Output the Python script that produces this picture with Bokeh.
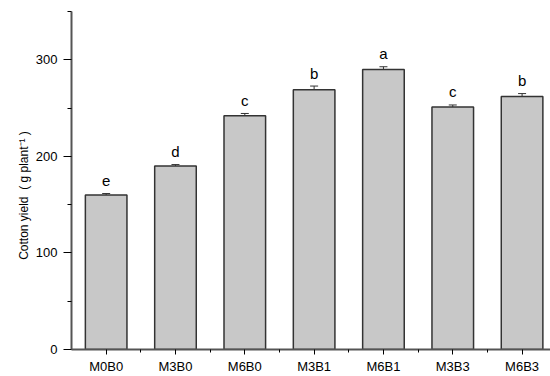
from bokeh.plotting import figure
from bokeh.models import ColumnDataSource, Whisker, FixedTicker, Range1d
from bokeh.embed import file_html
from bokeh.resources import INLINE
from bokeh.core.properties import value

categories = ["M0B0", "M3B0", "M6B0", "M3B1", "M6B1", "M3B3", "M6B3"]
yield_vals = [160, 190, 242, 269, 290, 251, 262]
errors = [1.5, 1.5, 2.4, 3.8, 2.8, 2.2, 3.0]
letters = ["e", "d", "c", "b", "a", "c", "b"]
y_ticks = [0, 100, 200, 300]
y_label = "Cotton yield\u00a0\u00a0(\u00a0g plant\u207b\u00b9\u00a0)"

FONT = "Liberation Sans"
x = list(range(1, len(categories) + 1))
src = ColumnDataSource(dict(
    x=x,
    top=yield_vals,
    upper=[v + e for v, e in zip(yield_vals, errors)],
    lower=[v - e for v, e in zip(yield_vals, errors)],
    letter=letters,
))

p = figure(width=550, height=376, x_range=Range1d(0.5, 7.41), y_range=Range1d(0, 350),
           output_backend="svg", toolbar_location=None,
           min_border_left=71, min_border_top=11, min_border_right=0, min_border_bottom=25)
p.outline_line_color = None
p.grid.visible = False
p.background_fill_color = "white"

p.vbar(x="x", top="top", bottom=0, width=0.6, source=src,
       fill_color="#c8c8c8", line_color="#333333", line_width=1.5)

w = Whisker(base="x", upper="upper", lower="lower", source=src,
            line_color="#333333", line_width=1)
w.upper_head.size = 8
w.lower_head.size = 8
w.upper_head.line_color = "#333333"
w.lower_head.line_color = "#333333"
p.add_layout(w)

p.text(x="x", y="upper", text="letter", source=src, text_align="center",
       text_baseline="alphabetic", y_offset=-13, text_font=value(FONT),
       text_font_size="15px", text_color="black")

# y axis
p.yaxis.ticker = FixedTicker(ticks=y_ticks, minor_ticks=[50, 150, 250, 350])
p.yaxis.axis_line_width = 2
p.yaxis.axis_line_color = "#555555"
p.yaxis.major_tick_out = 8
p.yaxis.major_tick_in = 0
p.yaxis.minor_tick_out = 4
p.yaxis.minor_tick_in = 0
p.yaxis.major_label_standoff = 6
p.yaxis.major_label_text_font = FONT
p.yaxis.major_label_text_font_size = "13px"
p.yaxis.major_label_text_color = "black"
p.yaxis.axis_label = y_label + "\u00a0" * 9
p.yaxis.axis_label_text_font = FONT
p.yaxis.axis_label_text_font_size = "12px"
p.yaxis.axis_label_text_font_style = "normal"
p.yaxis.axis_label_text_color = "black"
p.yaxis.axis_label_standoff = 2

# x axis
p.xaxis.ticker = FixedTicker(ticks=x, minor_ticks=[i + 0.5 for i in x])
p.xaxis.major_label_overrides = {i: c for i, c in zip(x, categories)}
p.xaxis.axis_line_width = 2
p.xaxis.axis_line_color = "#555555"
p.xaxis.major_tick_out = 5
p.xaxis.major_tick_in = 0
p.xaxis.minor_tick_out = 3
p.xaxis.minor_tick_in = 0
p.xaxis.major_label_standoff = 4
p.xaxis.major_label_text_font = FONT
p.xaxis.major_label_text_font_size = "13px"
p.xaxis.major_label_text_color = "black"

open("out.html", "w").write(file_html(p, INLINE))
